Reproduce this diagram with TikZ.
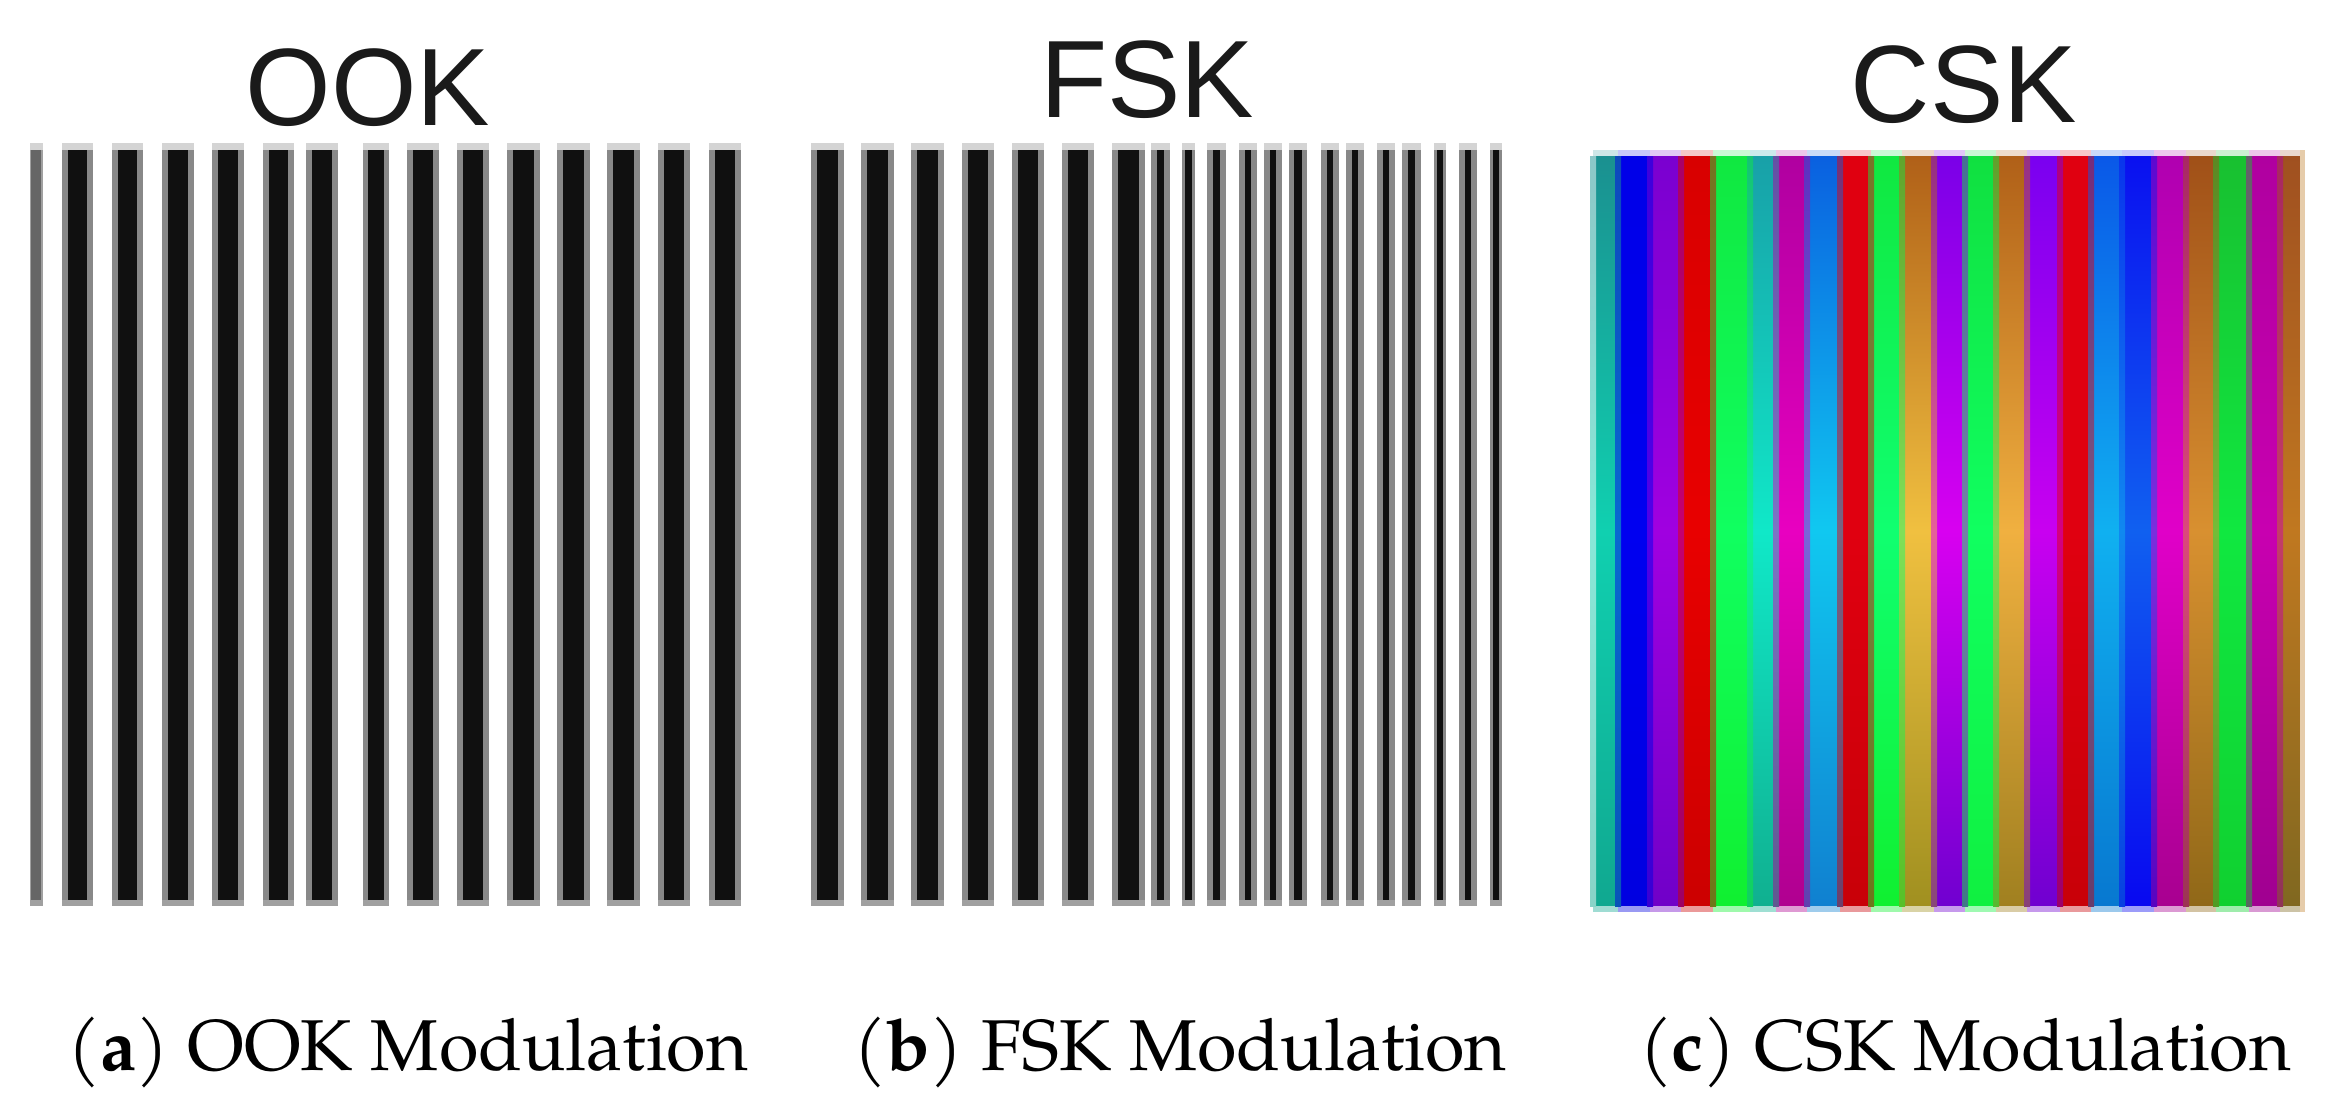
\documentclass[tikz,border=0pt]{standalone}
\usepackage{fontspec}
\setmainfont{TeX Gyre Pagella}
\newfontfamily\titlefont{Liberation Sans}
\definecolor{capgrayT}{HTML}{D4D4D4}
\definecolor{capgrayB}{HTML}{A0A0A0}
\definecolor{fringe}{HTML}{888888}
\definecolor{corecol}{HTML}{101010}
\definecolor{titlecol}{HTML}{1A1A1A}
\definecolor{tanedge}{HTML}{E6CCAA}
% black/white stripe: x1, x2, inset
\newcommand\bwstripe[3]{%
  \fill[capgrayT] (#1,143) rectangle (#2,150);
  \fill[capgrayB] (#1,900) rectangle (#2,906);
  \fill[fringe] (#1,150) rectangle (#2,900);
  \fill[corecol] ({#1+#3},150) rectangle ({#2-#3},900);
}
% colour stripe: x1, x2, top, mid, bottom (HTML)
\newcommand\cstripe[5]{%
  \definecolor{cT}{HTML}{#3}\definecolor{cM}{HTML}{#4}\definecolor{cB}{HTML}{#5}%
  \shade[top color=cT, bottom color=cB, middle color=cM] (#1,156) rectangle (#2,906);
  \fill[cT!22!white] (#1,150) rectangle (#2,156);
  \fill[cB!40!white] (#1,906) rectangle (#2,912);
  \shade[top color=pT!50!cT, bottom color=pB!50!cB, middle color=pM!50!cM] ({#1-3},156) rectangle ({#1+3},906);
  \colorlet{pT}{cT}\colorlet{pM}{cM}\colorlet{pB}{cB}%
}
\tikzset{
  title/.style={anchor=base, inner sep=0pt, text=titlecol, font=\titlefont\fontsize{110}{120}\selectfont},
  subcap/.style={anchor=base, inner sep=0pt, text=black, font=\fontsize{72}{80}\selectfont}
}
\begin{document}
\begin{tikzpicture}[x=1pt, y=-1pt]
\useasboundingbox (0,0) rectangle (2337,1104);
\fill[white] (0,0) rectangle (2337,1104);

% ---------- titles ----------
\node[title] (tOOK) at (368,125) {OOK};
\node[title] (tFSK) at (1147,117) {FSK};
\node[title] (tCSK) at (1964,122) {CSK};

% ---------- OOK ----------
\fill[capgrayT] (30,143) rectangle (43,150);
\fill[capgrayB] (30,900) rectangle (43,906);
\fill[fringe!80!white] (30,150) rectangle (43,900);
\fill[black!60] (31,150) rectangle (41,900);
\bwstripe{62}{93}{6}
\bwstripe{112}{143}{6}
\bwstripe{162}{194}{6}
\bwstripe{212}{244}{6}
\bwstripe{263}{294}{6}
\bwstripe{306}{338}{6}
\bwstripe{363}{389}{5}
\bwstripe{407}{439}{6}
\bwstripe{457}{489}{6}
\bwstripe{507}{540}{6}
\bwstripe{557}{590}{6}
\bwstripe{607}{640}{6}
\bwstripe{658}{690}{6}
\bwstripe{709}{741}{6}

% ---------- FSK ----------
\bwstripe{811}{844}{6}
\bwstripe{861}{894}{6}
\bwstripe{911}{944}{6}
\bwstripe{962}{994}{6}
\bwstripe{1012}{1044}{6}
\bwstripe{1062}{1094}{6}
\bwstripe{1112}{1145}{6}
\bwstripe{1151}{1170}{6}
\bwstripe{1182}{1195}{3}
\bwstripe{1207}{1226}{6}
\bwstripe{1239}{1257}{6}
\bwstripe{1264}{1282}{6}
\bwstripe{1289}{1307}{5}
\bwstripe{1321}{1339}{6}
\bwstripe{1346}{1364}{6}
\bwstripe{1377}{1395}{6}
\bwstripe{1402}{1421}{6}
\bwstripe{1434}{1446}{3}
\bwstripe{1459}{1477}{6}
\bwstripe{1490}{1502}{3}

% ---------- CSK ----------
\colorlet{pT}{white}\colorlet{pM}{white}\colorlet{pB}{white}
\cstripe{1593}{1618}{1A9090}{10D0B0}{10A890}
\cstripe{1618}{1650}{0000E8}{0000F0}{0000E0}
\cstripe{1650}{1681}{7A00D0}{A000E0}{7000C8}
\cstripe{1681}{1713}{D80000}{E80000}{CC0000}
\cstripe{1713}{1750}{10E840}{10FF60}{10F030}
\cstripe{1750}{1776}{18A0A8}{10E8C8}{10B090}
\cstripe{1776}{1807}{B000A0}{E800C0}{B00090}
\cstripe{1807}{1840}{0A60E0}{10C8F0}{1080D0}
\cstripe{1840}{1871}{E00010}{E00010}{C80008}
\cstripe{1871}{1902}{10E840}{10FF70}{10F030}
\cstripe{1902}{1934}{B06018}{F0C040}{A09020}
\cstripe{1934}{1965}{7A00E8}{D800F0}{7000D0}
\cstripe{1965}{1996}{10E040}{10FF60}{10F040}
\cstripe{1996}{2027}{B06018}{F0B040}{A08020}
\cstripe{2027}{2060}{7A00F0}{C800F0}{7000D0}
\cstripe{2060}{2091}{E00010}{E00010}{C80008}
\cstripe{2091}{2122}{0A58E8}{10B0F0}{0878D0}
\cstripe{2122}{2154}{0A10F0}{1060F0}{0808F0}
\cstripe{2154}{2186}{B000B0}{E000C8}{A80090}
\cstripe{2186}{2216}{A05018}{D89030}{906818}
\cstripe{2216}{2249}{18C030}{10E840}{10D030}
\cstripe{2249}{2280}{B000A0}{C800B0}{A00090}
\cstripe{2280}{2300}{A05020}{C07820}{806820}
\fill[tanedge] (2300,150) rectangle (2305,912);

% ---------- captions ----------
\node[subcap] (capA) at (408,1070) {(\textbf{a}) OOK Modulation};
\node[subcap] (capB) at (1180,1070) {(\textbf{b}) FSK Modulation};
\node[subcap] (capC) at (1965,1070) {(\textbf{c}) CSK Modulation};
\end{tikzpicture}
\end{document}
